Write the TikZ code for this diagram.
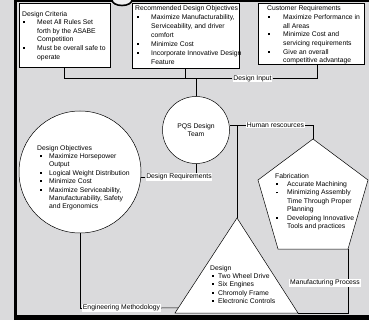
\documentclass[tikz,border=0pt]{standalone}
\usepackage{fontspec}
\setmainfont{Liberation Sans}
\usepackage{tikz}
\usetikzlibrary{calc}

\definecolor{marble}{RGB}{218,218,220}
\newcommand{\sq}{\rule[1.5pt]{1.8pt}{1.8pt}}
\newcommand{\itm}[3]{\makebox[#1][l]{\hspace*{#2}\sq}#3}
\newcommand{\cnt}[2]{\hspace*{#1}#2}

\begin{document}
\begin{tikzpicture}[x=1pt,y=-1pt,
    box/.style={rectangle,draw,fill=white,line width=0.5pt,inner sep=0pt},
    bubble/.style={circle,draw,fill=white,line width=0.5pt,inner sep=0pt},
    txt/.style={anchor=north west,inner sep=0pt,align=left,font=\fontsize{6.8}{#1}\selectfont},
    lbl/.style={fill=white,inner sep=0.8pt,font=\fontsize{6.8}{8}\selectfont}]
        \useasboundingbox (0,0) rectangle (369,320);
        \fill[marble] (0,0) rectangle (369,320);
        %frame
        \fill[black] (14,0) rectangle (17,320);
        \fill[black] (14,0) rectangle (369,2);
        \fill[black] (14,315) rectangle (369,320);
        \begin{scope}
          \clip (0,0) rectangle (369,320);
          \draw[line width=1.6pt,fill=marble!40] (122,0) ellipse [x radius=10,y radius=5.5];
        \end{scope}
        %nodes
          \node[box,minimum width=91pt,minimum height=64pt] (crit) at (64.5,35) {};
          \node[box,minimum width=107pt,minimum height=65pt] (rec) at (185.5,35.5) {};
          \node[box,minimum width=106pt,minimum height=61pt] (cust) at (311,33.5) {};
          \node[bubble,minimum size=67pt,align=center,font=\fontsize{6.8}{8.8}\selectfont] (pqs) at (196,130) {PQS Design\\Team};
          \node[bubble,minimum size=122pt] (obj) at (80,172) {};
          \coordinate (pA) at (313,139);
          \coordinate (pB) at (368,180);
          \coordinate (pC) at (348,249);
          \coordinate (pD) at (278,249);
          \coordinate (pE) at (258,180);
          \filldraw[fill=white,line width=0.5pt] (pA) -- (pB) -- (pC) -- (pD) -- (pE) -- cycle;
          \coordinate (tA) at (237,218);
          \coordinate (tB) at (298,313);
          \coordinate (tC) at (175,313);
          \coordinate (tE) at ($(tA)!0.947!(tC)$);
          \filldraw[fill=white,line width=0.5pt] (tA) -- (tB) -- (tC) -- cycle;
        %texts
          \node[txt=8.6] (critT) at (22,11) {Design Criteria\\
            \itm{15pt}{1pt}{Meet All Rules Set}\\ \cnt{15pt}{forth by the ASABE}\\ \cnt{15pt}{Competition}\\
            \itm{15pt}{1pt}{Must be overall safe to}\\ \cnt{15pt}{operate}};
          \node[txt=8.9] (recT) at (135,5.5) {Recommended Design Objectives\\
            \itm{16pt}{2pt}{Maximize Manufacturability,}\\ \cnt{16pt}{Serviceability, and driver}\\ \cnt{16pt}{comfort}\\
            \itm{16pt}{2pt}{Minimize Cost}\\
            \itm{16pt}{2pt}{Incorporate Innovative Design}\\ \cnt{16pt}{Feature}};
          \node[txt=8.7] (custT) at (267,5.5) {Customer Requirements\\
            \itm{16pt}{1pt}{Maximize Performance in}\\ \cnt{16pt}{all Areas}\\
            \itm{16pt}{1pt}{Minimize Cost and}\\ \cnt{16pt}{servicing requirements}\\
            \itm{16pt}{1pt}{Give an overall}\\ \cnt{16pt}{competitive advantage}};
          \node[txt=8.4] (objT) at (37,145) {Design Objectives\\
            \itm{12pt}{3pt}{Maximize Horsepower}\\ \cnt{12pt}{Output}\\
            \itm{12pt}{3pt}{Logical Weight Distribution}\\
            \itm{12pt}{3pt}{Minimize Cost}\\
            \itm{12pt}{3pt}{Maximize Serviceability,}\\ \cnt{12pt}{Manufacturability, Safety}\\ \cnt{12pt}{and Ergonomics}};
          \node[txt=8.4] (fabT) at (275,173) {Fabrication\\
            \itm{12pt}{1pt}{Accurate Machining}\\
            \itm{12pt}{1pt}{Minimizing Assembly}\\ \cnt{12pt}{Time Through Proper}\\ \cnt{12pt}{Planning}\\
            \itm{12pt}{1pt}{Developing Innovative}\\ \cnt{12pt}{Tools and practices}};
          \node[txt=8.3] (desT) at (210,265) {Design\\
            \itm{8pt}{2pt}{Two Wheel Drive}\\
            \itm{8pt}{2pt}{Six Engines}\\
            \itm{8pt}{2pt}{Chromoly Frame}\\
            \itm{8pt}{2pt}{Electronic Controls}};
        %labels
          \node[lbl] (din) at (252.5,78.5) {Design Input};
          \node[lbl] (dreq) at (179,177) {Design Requirements};
          \node[lbl] (hr) at (275.5,125) {Human rescources};
          \node[lbl] (eng) at (121.5,308) {Engineering Methodology};
        %Edges
          \draw[line width=0.5pt] (crit.south) |- (din.west);
          \draw[line width=0.5pt] (rec.south) -- (rec.south |- din.west);
          \draw[line width=0.5pt] (pqs.north) -- (pqs.north |- din.west);
          \draw[line width=0.5pt] (din.east) -| ([xshift=6pt]cust.south);
          \draw[line width=0.5pt] (pqs.south) -- (pqs.south |- dreq.north);
          \draw[line width=0.5pt] (dreq.west) -- (obj.east |- dreq.west);
          \draw[line width=0.5pt] (hr.west) -- (hr.west -| pqs.east);
          \draw[line width=0.5pt] (hr.east) -| (pA);
          \draw[line width=0.5pt] (tA) -- (tA |- hr.west);
          \draw[line width=0.5pt] (obj.south) |- (eng.west);
          \draw[line width=0.5pt] (eng.east) -- (tE);
          \draw[line width=0.5pt] (tB) -| (pC);
          \node[lbl] (mfg) at (325,283) {Manufacturing Process};
\end{tikzpicture}
\end{document}
